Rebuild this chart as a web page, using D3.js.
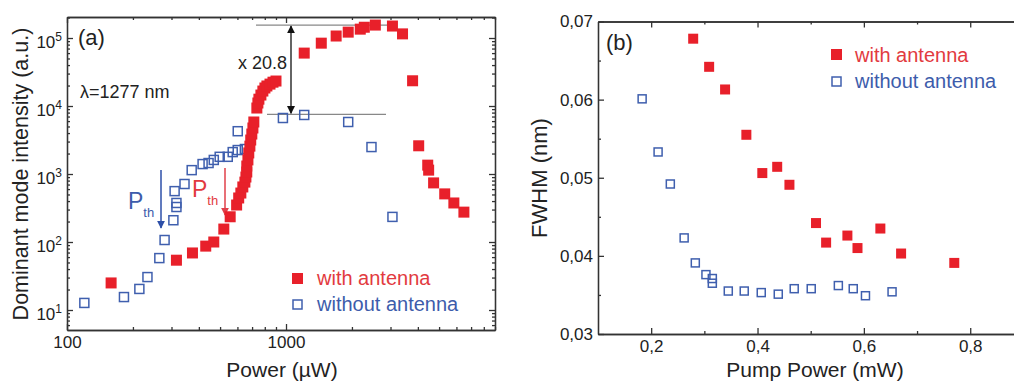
<!DOCTYPE html>
<html>
<head>
<meta charset="utf-8">
<script src="https://cdn.jsdelivr.net/npm/d3@7"></script>
<style>
  body { margin: 0; background: #fff; }
  svg { font-family: "Liberation Sans", Arial, sans-serif; }
  .axis path, .axis line { stroke: #333; stroke-width: 1.3; }
  .axis text { font-size: 17px; fill: #222; }
</style>
</head>
<body>
<svg id="chart" width="1014" height="383"></svg>
<script>
// ---- panel (a): dominant mode intensity vs power (log-log) ----
const antennaPower = [159, 316, 374, 430, 468, 520, 556, 595, 608, 622, 635, 649, 656, 662, 662, 670, 676, 684, 690, 698, 706, 713,
    736, 744, 752, 768, 784, 801, 818, 845, 872, 900,
    1211, 1449, 1694, 1923, 2183, 2278, 2558, 3062, 3404, 3784, 4035, 4437, 4480, 4720, 5305, 5840, 6490];
const antennaIntensity = [25, 54, 69, 87, 100, 155, 235, 350, 444, 525, 645, 760, 903, 1070, 1310, 1610, 2040, 2570, 3160, 3870, 4750, 5820,
    9340, 11070, 12600, 14500, 16600, 18400, 19700, 21000, 22400, 23300,
    60000, 84000, 107000, 122000, 135000, 144000, 155000, 150000, 115000, 23500, 2600, 1350, 1140, 740, 510, 375, 275];

const bareP = [120, 182, 214, 233, 264, 279, 306, 316, 316, 310, 344, 371, 416, 443, 468, 498, 542, 571, 602, 649, 602,
    968, 1211, 1923, 2456, 3062];
const bareI = [12.7, 15.5, 20.4, 30.5, 58, 107, 209, 327, 375, 560, 713, 1140, 1400, 1450, 1610, 1790, 1790, 2100, 2250, 2330, 4260,
    6660, 7380, 5820, 2490, 234];

const powerMajor = [100, 1000];
const powerMinor = [200, 300, 400, 500, 600, 700, 800, 900, 2000, 3000, 4000, 5000, 6000, 7000, 8000, 9000];
const intensityMajor = [10, 100, 1000, 10000, 100000];

// ---- panel (b): FWHM vs pump power ----
const pumpAnt = [0.279, 0.309, 0.339, 0.379, 0.409, 0.437, 0.460, 0.510, 0.529, 0.569, 0.588, 0.631, 0.670, 0.770];
const fwhmAnt = [0.0678, 0.0642, 0.0613, 0.0555, 0.0506, 0.0514, 0.0491, 0.0442, 0.0417, 0.0426, 0.0410, 0.0435, 0.0403, 0.0391];
const pumpBare = [0.183, 0.213, 0.236, 0.262, 0.283, 0.303, 0.315, 0.315, 0.345, 0.375, 0.407, 0.439, 0.469, 0.501, 0.552, 0.580, 0.603, 0.653];
const fwhmBare = [0.0601, 0.0533, 0.0492, 0.0423, 0.0391, 0.0376, 0.0371, 0.0365, 0.0355, 0.0355, 0.0353, 0.0351, 0.0358, 0.0358, 0.0362, 0.0358, 0.0349, 0.0354];

const pumpMajor = [0.2, 0.4, 0.6, 0.8];
const pumpMinor = [0.3, 0.5, 0.7];
const fwhmMajor = [0.03, 0.04, 0.05, 0.06, 0.07];
const fwhmMinor = [0.035, 0.045, 0.055, 0.065];

const red = "#e8202a";
const blue = "#3f5fae";
const redText = "#e23a40";
const blueText = "#3d5cab";

const svg = d3.select("#chart");

// helper for inward ticks on all four sides
function frame(g, x, y, xMaj, xMin, yMaj, yMin, xFmt, yFmt) {
    const [x0, x1] = x.range();
    const [y0, y1] = y.range(); // y0 bottom
    g.append("g").attr("class", "axis").attr("transform", `translate(0,${y0})`)
        .call(d3.axisBottom(x).tickValues(xMaj).tickSizeInner(-6).tickSizeOuter(0).tickPadding(6).tickFormat(xFmt));
    g.append("g").attr("class", "axis").attr("transform", `translate(0,${y0})`)
        .call(d3.axisBottom(x).tickValues(xMin).tickSizeInner(-3).tickSizeOuter(0).tickFormat(""));
    g.append("g").attr("class", "axis").attr("transform", `translate(0,${y1})`)
        .call(d3.axisTop(x).tickValues(xMaj).tickSizeInner(-6).tickSizeOuter(0).tickFormat(""));
    g.append("g").attr("class", "axis").attr("transform", `translate(0,${y1})`)
        .call(d3.axisTop(x).tickValues(xMin).tickSizeInner(-3).tickSizeOuter(0).tickFormat(""));
    const left = g.append("g").attr("class", "axis yleft").attr("transform", `translate(${x0},0)`)
        .call(d3.axisLeft(y).tickValues(yMaj).tickSizeInner(-6).tickSizeOuter(0).tickPadding(5).tickFormat(yFmt));
    g.append("g").attr("class", "axis").attr("transform", `translate(${x0},0)`)
        .call(d3.axisLeft(y).tickValues(yMin).tickSizeInner(-3).tickSizeOuter(0).tickFormat(""));
    g.append("g").attr("class", "axis").attr("transform", `translate(${x1},0)`)
        .call(d3.axisRight(y).tickValues(yMaj).tickSizeInner(-6).tickSizeOuter(0).tickFormat(""));
    g.append("g").attr("class", "axis").attr("transform", `translate(${x1},0)`)
        .call(d3.axisRight(y).tickValues(yMin).tickSizeInner(-3).tickSizeOuter(0).tickFormat(""));
    return left;
}

// ================= panel (a) =================
const gA = svg.append("g");
const xA = d3.scaleLog().domain([100, 9000]).range([67, 495]);
const yA = d3.scaleLog().domain([5.08, 203700]).range([330, 17]);

const yMinorA = [];
[1, 10, 100, 1000, 10000, 100000].forEach(dec => {
    for (let k = 2; k <= 9; k++) {
        const v = dec * k;
        if (v >= 5.08 && v <= 203700) yMinorA.push(v);
    }
});

const leftA = frame(gA, xA, yA, powerMajor, powerMinor, intensityMajor, yMinorA, d3.format("d"), () => "");
leftA.selectAll(".tick text").each(function(d) {
    const t = d3.select(this);
    t.append("tspan").text("10");
    t.append("tspan").attr("dy", "-0.55em").attr("font-size", "12px").text(Math.round(Math.log10(d)));
}).attr("dy", "0.55em");

// annotation lines (top level and bare level)
gA.append("line").attr("x1", 256).attr("x2", 391).attr("y1", yA(155000)).attr("y2", yA(155000))
    .attr("stroke", "#888").attr("stroke-width", 1.2);
gA.append("line").attr("x1", 267).attr("x2", 386).attr("y1", yA(7550)).attr("y2", yA(7550))
    .attr("stroke", "#888").attr("stroke-width", 1.2);

const defs = svg.append("defs");
function marker(id, color) {
    defs.append("marker").attr("id", id).attr("viewBox", "0 0 10 10").attr("refX", 9).attr("refY", 5)
        .attr("markerWidth", 8).attr("markerHeight", 10).attr("markerUnits", "userSpaceOnUse")
        .attr("orient", "auto-start-reverse")
        .append("path").attr("d", "M0,0 L10,5 L0,10 Z").attr("fill", color);
}
marker("arrBlack", "#111");
marker("arrBlue", "#2d4fa8");
marker("arrRed", "#e0404a");

gA.append("line").attr("x1", 291).attr("x2", 291).attr("y1", yA(155000) + 1).attr("y2", yA(7550) - 1)
    .attr("stroke", "#111").attr("stroke-width", 1.3)
    .attr("marker-start", "url(#arrBlack)").attr("marker-end", "url(#arrBlack)");
gA.append("text").attr("x", 287).attr("y", 69).attr("text-anchor", "end")
    .attr("font-size", "18px").attr("fill", "#222").text("x 20.8");

// threshold arrows
gA.append("line").attr("x1", 161).attr("x2", 161).attr("y1", 170).attr("y2", 228)
    .attr("stroke", "#2d4fa8").attr("stroke-width", 1.5).attr("marker-end", "url(#arrBlue)");
gA.append("line").attr("x1", 225).attr("x2", 225).attr("y1", 168).attr("y2", 215)
    .attr("stroke", "#e0404a").attr("stroke-width", 1.5).attr("marker-end", "url(#arrRed)");
const pb = gA.append("text").attr("x", 128).attr("y", 209).attr("fill", blueText).attr("font-size", "23px");
pb.append("tspan").text("P");
pb.append("tspan").attr("dy", 8).attr("font-size", "13px").text("th");
const pr = gA.append("text").attr("x", 192).attr("y", 197).attr("fill", redText).attr("font-size", "23px");
pr.append("tspan").text("P");
pr.append("tspan").attr("dy", 8).attr("font-size", "13px").text("th");

// points
gA.selectAll(".bareA").data(d3.range(bareP.length)).enter().append("rect")
    .attr("x", i => xA(bareP[i]) - 4.5).attr("y", i => yA(bareI[i]) - 4.5)
    .attr("width", 9).attr("height", 9)
    .attr("fill", "none").attr("stroke", blue).attr("stroke-width", 1.5);
gA.selectAll(".antA").data(d3.range(antennaPower.length)).enter().append("rect")
    .attr("x", i => xA(antennaPower[i]) - 5.5).attr("y", i => yA(antennaIntensity[i]) - 5.5)
    .attr("width", 11).attr("height", 11).attr("fill", red);

gA.append("text").attr("x", 78).attr("y", 45).attr("font-size", "22px").attr("fill", "#222").text("(a)");
gA.append("text").attr("x", 80).attr("y", 98).attr("font-size", "18px").attr("fill", "#222").text("λ=1277 nm");

// legend (a)
gA.append("rect").attr("x", 292).attr("y", 273).attr("width", 11).attr("height", 11).attr("fill", red);
gA.append("text").attr("x", 317).attr("y", 285).attr("font-size", "20px").attr("fill", redText).text("with antenna");
gA.append("rect").attr("x", 293).attr("y", 300).attr("width", 9).attr("height", 9)
    .attr("fill", "none").attr("stroke", blue).attr("stroke-width", 1.5);
gA.append("text").attr("x", 317).attr("y", 311).attr("font-size", "20px").attr("fill", blueText).text("without antenna");

gA.append("text").attr("x", 282).attr("y", 377).attr("text-anchor", "middle")
    .attr("font-size", "21px").attr("fill", "#222").text("Power (µW)");
gA.append("text").attr("transform", "translate(28,174) rotate(-90)").attr("text-anchor", "middle")
    .attr("font-size", "21.5px").attr("fill", "#222").text("Dominant mode intensity (a.u.)");

// ================= panel (b) =================
const gB = svg.append("g");
const xB = d3.scaleLinear().domain([0.1, 0.9]).range([598, 1023.4]);
const yB = d3.scaleLinear().domain([0.03, 0.07]).range([334, 21.5]);
const comma = d => d3.format(".1f")(d).replace(".", ",");
const comma2 = d => d3.format(".2f")(d).replace(".", ",");
frame(gB, xB, yB, pumpMajor, pumpMinor, fwhmMajor, fwhmMinor, comma, comma2);

gB.selectAll(".bareB").data(d3.range(pumpBare.length)).enter().append("rect")
    .attr("x", i => xB(pumpBare[i]) - 4).attr("y", i => yB(fwhmBare[i]) - 4)
    .attr("width", 8).attr("height", 8)
    .attr("fill", "none").attr("stroke", blue).attr("stroke-width", 1.5);
gB.selectAll(".antB").data(d3.range(pumpAnt.length)).enter().append("rect")
    .attr("x", i => xB(pumpAnt[i]) - 5).attr("y", i => yB(fwhmAnt[i]) - 5)
    .attr("width", 10).attr("height", 10).attr("fill", red);

gB.append("text").attr("x", 606).attr("y", 50).attr("font-size", "22px").attr("fill", "#222").text("(b)");

// legend (b)
gB.append("rect").attr("x", 831).attr("y", 49).attr("width", 11).attr("height", 11).attr("fill", red);
gB.append("text").attr("x", 855).attr("y", 62).attr("font-size", "20px").attr("fill", redText).text("with antenna");
gB.append("rect").attr("x", 832).attr("y", 77).attr("width", 9).attr("height", 9)
    .attr("fill", "none").attr("stroke", blue).attr("stroke-width", 1.5);
gB.append("text").attr("x", 855).attr("y", 88).attr("font-size", "20px").attr("fill", blueText).text("without antenna");

gB.append("text").attr("x", 815).attr("y", 377).attr("text-anchor", "middle")
    .attr("font-size", "21px").attr("fill", "#222").text("Pump Power (mW)");
gB.append("text").attr("transform", "translate(547,178) rotate(-90)").attr("text-anchor", "middle")
    .attr("font-size", "22px").attr("fill", "#222").text("FWHM (nm)");
</script>
</body>
</html>
